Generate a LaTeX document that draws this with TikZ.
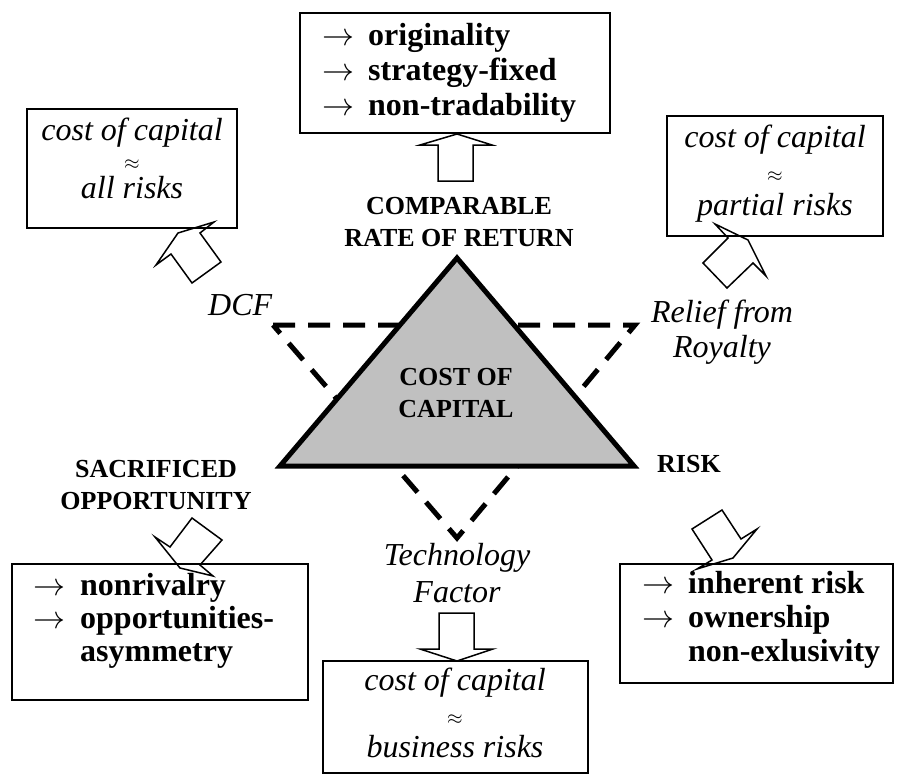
\RequirePackage{fix-cm}
\documentclass[tikz,border=0pt]{standalone}
\usepackage{fontspec}
\setmainfont{Liberation Serif}
\definecolor{ccgray}{RGB}{192,192,192}
\begin{document}
\begin{tikzpicture}[x=1pt,y=-1pt,
  frame/.style={draw,line width=1.8pt,inner sep=0pt},
  items/.style={inner sep=0pt,anchor=north west,align=left},
  lbl/.style={inner sep=0pt,anchor=north,align=center,font=\fontsize{26}{32}\selectfont\bfseries},
  blockarrow/.style={line width=1.5pt,line join=miter}]
\useasboundingbox (0,0) rectangle (897,776);
% triangles
\draw[line width=5pt,dash pattern=on 22pt off 13pt] (273,325) -- (635,325) -- (457,538) -- cycle;
\draw[line width=5pt,fill=ccgray,line join=miter] (457,258) -- (634,466) -- (280,466) -- cycle;
\node[lbl] (cost) at (456,368.5) {COST OF\\CAPITAL};
\node[lbl] (comparable) at (459,197.5) {COMPARABLE\\RATE OF RETURN};
\node[lbl] (sacrificed) at (156,460.5) {SACRIFICED\\OPPORTUNITY};
\node[inner sep=0pt,anchor=base west,font=\fontsize{26}{32}\selectfont\bfseries] (risk) at (657,472) {RISK};
\node[inner sep=0pt,anchor=base west,font=\fontsize{32}{35}\selectfont\itshape] (dcf) at (208,315) {DCF};
\node[inner sep=0pt,anchor=north,align=center,font=\fontsize{32}{35}\selectfont\itshape] (relief) at (722,300) {Relief from\\Royalty};
\node[inner sep=0pt,anchor=north,align=center,font=\fontsize{32}{37}\selectfont\itshape] (techlabel) at (457,543) {Technology\\Factor};
% boxes
\node[frame,minimum width=310pt,minimum height=120pt] (topbox) at (455,73) {};
\node[items,font=\fontsize{32}{35}\selectfont\bfseries] (topitems) at (322,23)
  {\makebox[46pt][l]{$\rightarrow$}originality\\\makebox[46pt][l]{$\rightarrow$}strategy-fixed\\\makebox[46pt][l]{$\rightarrow$}non-tradability};
\node[frame,minimum width=210pt,minimum height=119pt] (dcfbox) at (132,168.5) {};
\node[inner sep=0pt,anchor=north,align=center,font=\fontsize{32}{29}\selectfont\itshape] (dcftext) at (132,118)
  {cost of capital\\{\fontsize{20}{20}\selectfont$\approx$}\\all risks};
\node[frame,minimum width=216pt,minimum height=120pt] (reliefbox) at (775,176) {};
\node[inner sep=0pt,anchor=north,align=center,font=\fontsize{32}{34}\selectfont\itshape] (relieftext) at (775,125)
  {cost of capital\\{\fontsize{20}{20}\selectfont$\approx$}\\partial risks};
\node[frame,minimum width=296pt,minimum height=136pt] (sacbox) at (160,632) {};
\node[items,font=\fontsize{32}{33}\selectfont\bfseries] (sacitems) at (33,573)
  {\makebox[47pt][l]{$\rightarrow$}nonrivalry\\\makebox[47pt][l]{$\rightarrow$}opportunities-\\\hspace*{47pt}asymmetry};
\node[frame,minimum width=273pt,minimum height=119pt] (riskbox) at (756.5,623.5) {};
\node[items,font=\fontsize{32}{34}\selectfont\bfseries] (riskitems) at (642,571)
  {\makebox[46pt][l]{$\rightarrow$}inherent risk\\\makebox[46pt][l]{$\rightarrow$}ownership\\\hspace*{46pt}non-exlusivity};
\node[frame,minimum width=265pt,minimum height=112pt] (techbox) at (455.5,717) {};
\node[inner sep=0pt,anchor=north,align=center,font=\fontsize{32}{33.5}\selectfont\itshape] (techtext) at (455,668)
  {cost of capital\\{\fontsize{20}{20}\selectfont$\approx$}\\business risks};
% block arrows
\draw[blockarrow] (171,254) -- (156,265) -- (178,233) -- (214,222) -- (200,233) -- (221,262) -- (192,283) -- cycle;
\draw[blockarrow] (457,134) -- (492,145) -- (473,145) -- (473,181) -- (438,181) -- (438,145) -- (420,145) -- cycle;
\draw[blockarrow] (715,224) -- (728,238) -- (703,263) -- (727,288) -- (753,263) -- (766,276) -- (748,240) -- cycle;
\draw[blockarrow] (192,518) -- (222,540) -- (200,565) -- (213,576) -- (180,568) -- (155,537) -- (170,547) -- cycle;
\draw[blockarrow] (722,510) -- (741,539) -- (757,529) -- (733,558) -- (697,569) -- (712,560) -- (692,529) -- cycle;
\draw[blockarrow] (439,613) -- (474,613) -- (474,649) -- (493,649) -- (457,661) -- (420,649) -- (439,649) -- cycle;
\end{tikzpicture}
\end{document}
